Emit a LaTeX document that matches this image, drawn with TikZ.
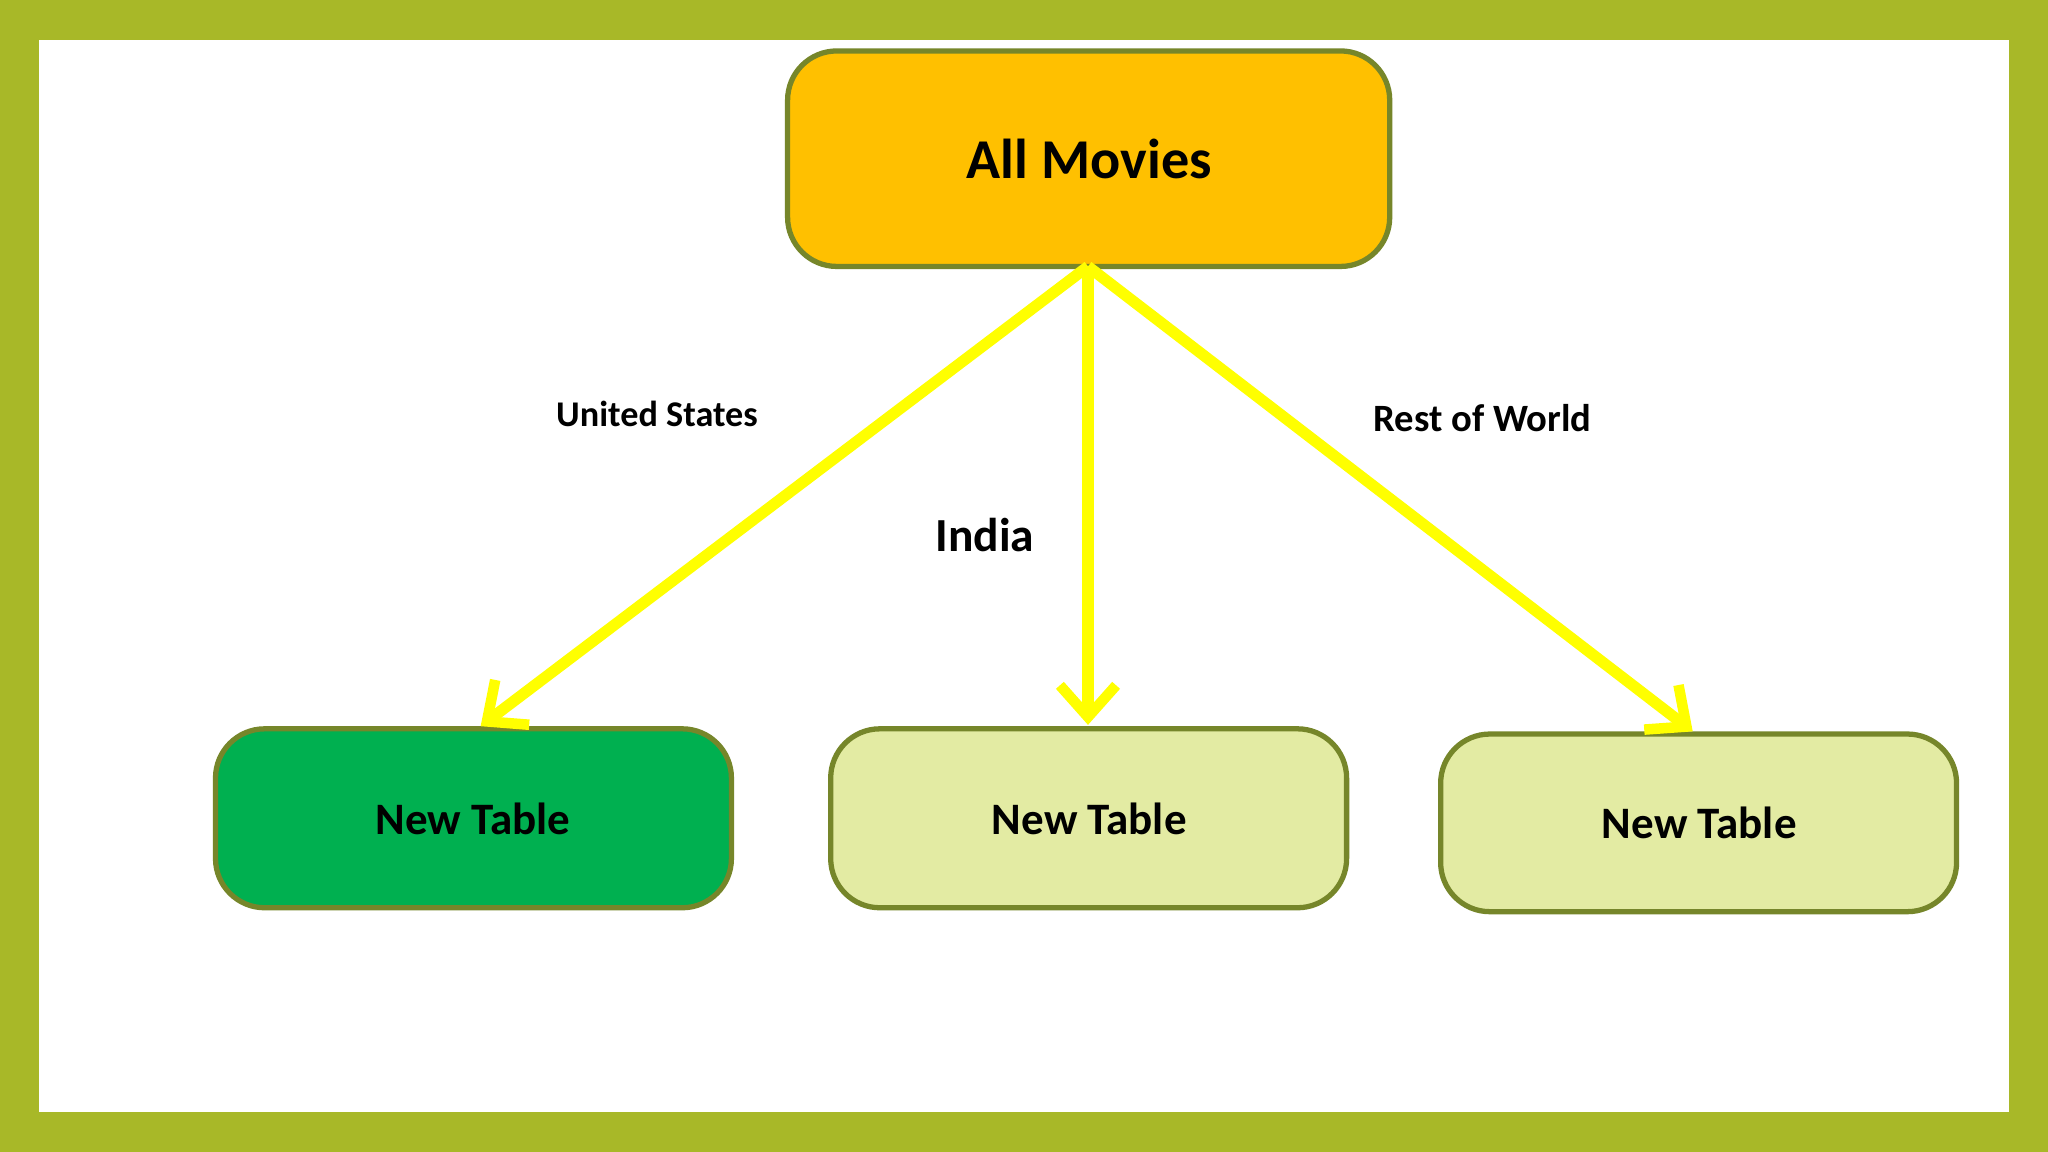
\documentclass[tikz,border=0pt]{standalone}
\usepackage{fontspec}
\setmainfont{Carlito}
\usetikzlibrary{arrows.meta}
\definecolor{frame}{HTML}{A8B828}
\definecolor{edge}{HTML}{76862A}
\definecolor{gold}{HTML}{FFC000}
\definecolor{green1}{HTML}{00B050}
\definecolor{pale}{HTML}{E3EBA3}
\definecolor{arr}{HTML}{FFFF00}
\tikzset{
 box/.style={draw=edge,line width=1.5pt,rounded corners=14pt},
 conn/.style={draw=arr,line width=3.2pt,-{Straight Barb[length=9pt,width=16pt,line width=3pt]}},
 lbl/.style={font=\bfseries}
}
\begin{document}
\begin{tikzpicture}[x=0.01306cm,y=-0.01306cm]
\fill[frame] (0,0) rectangle (1568,882);
\fill[white] (30,31) rectangle (1538,851);
\draw[box,fill=gold] (603,39) rectangle (1064,204);
\node[lbl,font=\bfseries\fontsize{16}{18}\selectfont] (top) at (834,122) {All Movies};
\draw[box,fill=green1] (165,558) rectangle (560,695);
\node[lbl,font=\bfseries\fontsize{12.8}{15}\selectfont] (b1) at (362,627) {New Table};
\draw[box,fill=pale] (636,558) rectangle (1031,695);
\node[lbl,font=\bfseries\fontsize{12.8}{15}\selectfont] (b2) at (834,627) {New Table};
\draw[box,fill=pale] (1103,562) rectangle (1498,698);
\node[lbl,font=\bfseries\fontsize{12.8}{15}\selectfont] (b3) at (1301,630) {New Table};
\coordinate (s) at (833,204);
\coordinate (e1) at (368,556);
\coordinate (e2) at (833,555);
\coordinate (e3) at (1296,560);
\draw[conn] (s) -- (e1);
\draw[conn] (s) -- (e2);
\draw[conn] (s) -- (e3);
\node[font=\bfseries\fontsize{10.3}{12}\selectfont] (l1) at (503,317) {United States};
\node[font=\bfseries\fontsize{13.5}{16}\selectfont] (l2) at (754,410) {India};
\node[font=\bfseries\fontsize{11}{13}\selectfont] (l3) at (1135,320) {Rest of World};
\end{tikzpicture}
\end{document}
